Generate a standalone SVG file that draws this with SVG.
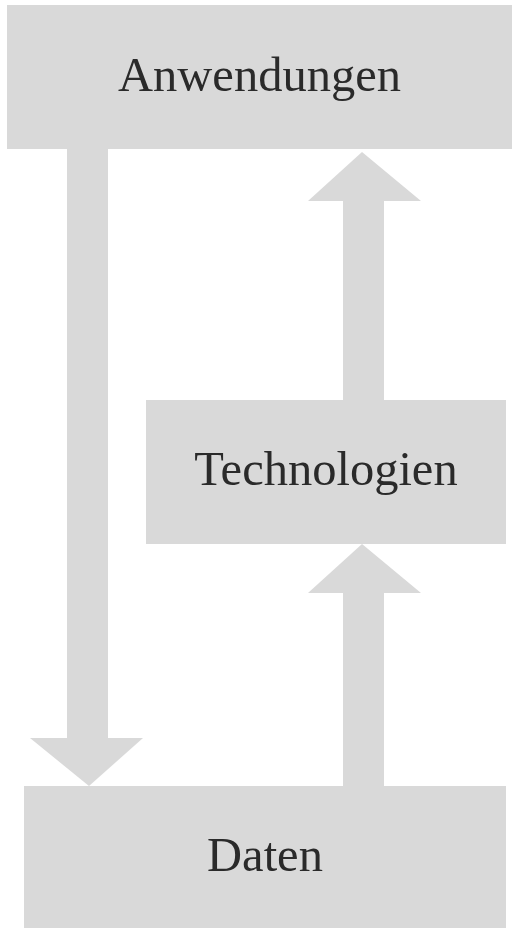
<svg xmlns="http://www.w3.org/2000/svg" width="512" height="928" viewBox="0 0 512 928">
  <style>
    .box { fill: #d9d9d9; }
    .arrow { fill: #d9d9d9; }
    .label { font-family: "Liberation Serif", "DejaVu Serif", serif; font-size: 48.5px; fill: #2a2a2a; text-anchor: middle; }
  </style>
  <rect width="512" height="928" fill="#ffffff"/>
  <g id="connectors">
    <!-- Anwendungen down to Daten -->
    <path class="arrow" d="M67 148 H108 V738 H143 L89 786 L30 738 H67 Z"/>
    <!-- Technologien up to Anwendungen -->
    <path class="arrow" d="M343 400 V201 H308 L362 152 L421 201 H384 V400 Z"/>
    <!-- Daten up to Technologien -->
    <path class="arrow" d="M343 786 V593 H308 L362 544 L421 593 H384 V786 Z"/>
  </g>
  <g id="anwendungen">
    <rect class="box" x="7" y="5" width="505" height="144"/>
    <text class="label" x="259.5" y="91">Anwendungen</text>
  </g>
  <g id="technologien">
    <rect class="box" x="146" y="400" width="360" height="144"/>
    <text class="label" x="326" y="485">Technologien</text>
  </g>
  <g id="daten">
    <rect class="box" x="24" y="786" width="482" height="142"/>
    <text class="label" x="265" y="871">Daten</text>
  </g>
</svg>
